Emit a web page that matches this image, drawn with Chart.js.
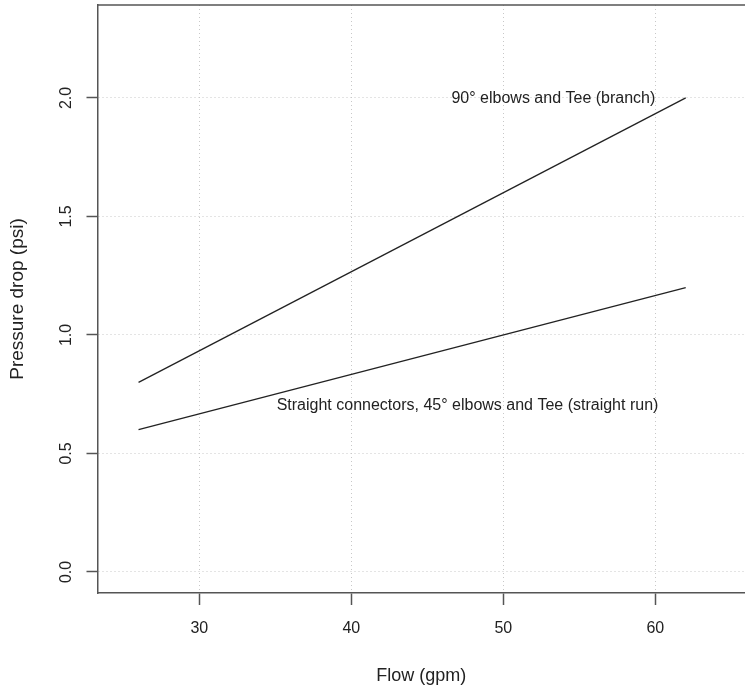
<!DOCTYPE html>
<html>
<head>
<meta charset="utf-8">
<script src="https://cdn.jsdelivr.net/npm/chart.js@4.4.0/dist/chart.umd.min.js"></script>
<style>
  html, body { margin: 0; padding: 0; background: #fff; }
  canvas { display: block; }
</style>
</head>
<body>
<canvas id="chart" width="745" height="692"></canvas>
<script>
// flow (gpm) at the two ends of each line
const flow = [26, 62];
// pressure drop (psi)
const elbows90 = [0.8, 2.0];
const straightRun = [0.6, 1.2];

const xTicks = [30, 40, 50, 60];
const yTicks = [0, 0.5, 1.0, 1.5, 2.0];

const lineLabels = [
  { text: '90\u00b0 elbows and Tee (branch)', x: 60, y: 1.995 },
  { text: 'Straight connectors, 45\u00b0 elbows and Tee (straight run)', x: 60.2, y: 0.7 },
];

const FONT = '"Liberation Sans", Arial, sans-serif';
const AXIS_COLOR = '#555';
const GRID_COLOR = '#c8c8c8';

const toPoints = (ys) => flow.map((x, i) => ({ x: x, y: ys[i] }));

// top edge of the plot box and the two text labels
const boxAndText = {
  id: 'boxAndText',
  afterDraw(chart) {
    const { ctx, chartArea, scales } = chart;
    ctx.save();
    ctx.strokeStyle = AXIS_COLOR;
    ctx.lineWidth = 1.5;
    ctx.setLineDash([]);
    ctx.beginPath();
    ctx.moveTo(chartArea.left, chartArea.top);
    ctx.lineTo(chartArea.right, chartArea.top);
    ctx.stroke();

    ctx.fillStyle = '#222';
    ctx.font = '16px ' + FONT;
    ctx.textAlign = 'right';
    ctx.textBaseline = 'middle';
    lineLabels.forEach((l) => {
      ctx.fillText(l.text, scales.x.getPixelForValue(l.x), scales.y.getPixelForValue(l.y));
    });
    ctx.restore();
  },
};

new Chart(document.getElementById('chart'), {
  type: 'line',
  data: {
    datasets: [
      { data: toPoints(elbows90) },
      { data: toPoints(straightRun) },
    ],
  },
  options: {
    responsive: false,
    animation: false,
    layout: { padding: { top: 5, right: 0, left: 0, bottom: 0 } },
    elements: {
      line: { borderColor: '#222', borderWidth: 1.3, tension: 0 },
      point: { radius: 0 },
    },
    plugins: {
      legend: { display: false },
      tooltip: { enabled: false },
    },
    scales: {
      x: {
        type: 'linear',
        min: 23.3,
        max: 65.9,
        afterBuildTicks: (scale) => { scale.ticks = xTicks.map((v) => ({ value: v })); },
        afterFit: (scale) => { scale.height = 99; scale.paddingLeft = 0; scale.paddingRight = 0; },
        grid: {
          color: GRID_COLOR,
          lineWidth: 1,
          tickLength: 12,
          tickColor: AXIS_COLOR,
          tickWidth: 1.5,
          tickBorderDash: [],
        },
        border: { display: true, color: AXIS_COLOR, width: 1.5, dash: [1, 3] },
        ticks: {
          color: '#222',
          font: { family: FONT, size: 16 },
          padding: 14,
          maxRotation: 0,
          autoSkip: false,
        },
        title: {
          display: true,
          text: 'Flow (gpm)',
          color: '#222',
          font: { family: FONT, size: 18 },
          padding: { top: 0, bottom: 5 },
        },
      },
      y: {
        type: 'linear',
        min: -0.089,
        max: 2.392,
        afterBuildTicks: (scale) => { scale.ticks = yTicks.map((v) => ({ value: v })); },
        afterFit: (scale) => { scale.width = 97.5; scale.paddingTop = 0; scale.paddingBottom = 0; },
        grid: {
          color: GRID_COLOR,
          lineWidth: 1,
          tickLength: 11,
          tickColor: AXIS_COLOR,
          tickWidth: 1.5,
          tickBorderDash: [],
        },
        border: { display: true, color: AXIS_COLOR, width: 1.5, dash: [1, 3] },
        ticks: {
          color: '#222',
          font: { family: FONT, size: 16 },
          minRotation: 90,
          maxRotation: 90,
          crossAlign: 'center',
          padding: 9,
          callback: (v) => v.toFixed(1),
        },
        title: {
          display: true,
          text: 'Pressure drop (psi)',
          color: '#222',
          font: { family: FONT, size: 19 },
          padding: { top: 6, bottom: 0 },
        },
      },
    },
  },
  plugins: [boxAndText],
});
</script>
</body>
</html>
